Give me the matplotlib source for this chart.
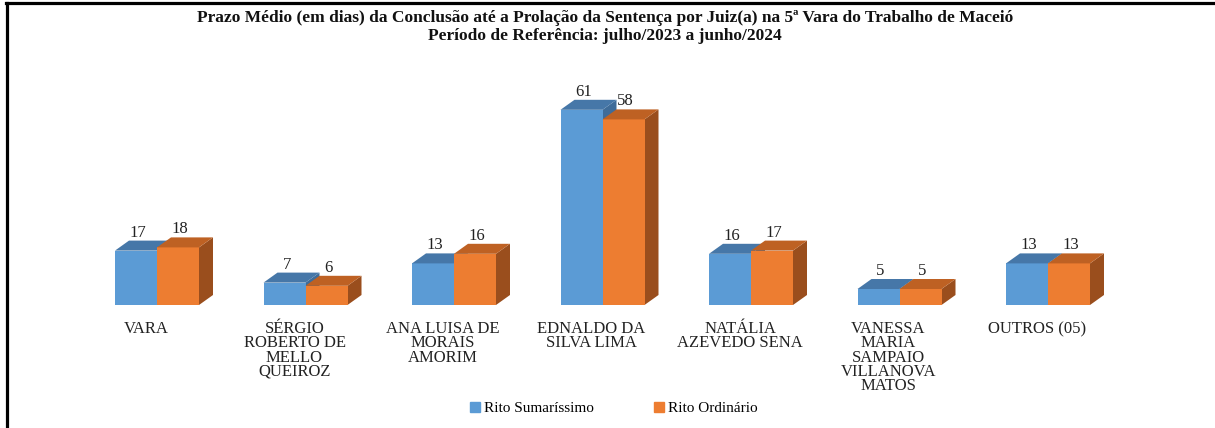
import numpy as np
import matplotlib
matplotlib.use("Agg")
import matplotlib.pyplot as plt
from matplotlib.patches import Polygon
from matplotlib.lines import Line2D
from matplotlib.transforms import offset_copy

plt.rcParams['font.family'] = ['Liberation Serif', 'DejaVu Serif']

# data
juizes = ["VARA", "SÉRGIO\nROBERTO DE\nMELLO\nQUEIROZ", "ANA LUISA DE\nMORAIS\nAMORIM",
          "EDNALDO DA\nSILVA LIMA", "NATÁLIA\nAZEVEDO SENA", "VANESSA\nMARIA\nSAMPAIO\nVILLANOVA\nMATOS",
          "OUTROS (05)"]
sumarissimo = [17, 7, 13, 61, 16, 5, 13]
ordinario = [18, 6, 16, 58, 17, 5, 13]
series_names = ["Rito Sumaríssimo", "Rito Ordinário"]

W, H = 1215, 428
fig = plt.figure(figsize=(W / 100, H / 100), dpi=100)
fig.patch.set_facecolor("white")

# axes placed so baseline sits ~305px from top, 3.2 px per day
ymax = 70
px_per_unit = 3.2
base_px = 305
x0_px = 157 - 74.25
ax = fig.add_axes([x0_px / W, (H - base_px) / H, 1039.5 / W, ymax * px_per_unit / H])
ax.set_xlim(-0.5, 6.5)
ax.set_ylim(0, ymax)
ax.axis("off")

bw = 42 / 148.5
dx = 14 / 148.5
dy = 10 / px_per_unit

styles = [
    dict(front="#5B9BD5", top="#4677A8", side="#3F6C99"),
    dict(front="#ED7D31", top="#BE6123", side="#9A4E1D"),
]

x = np.arange(len(juizes))
for k, vals in enumerate([sumarissimo, ordinario]):
    st = styles[k]
    lefts = x - bw + k * bw
    ax.bar(lefts, vals, width=bw, align="edge", color=st["front"], edgecolor="none", zorder=2 + k * 3)
    for xl, v in zip(lefts, vals):
        top = Polygon([(xl, v), (xl + bw, v), (xl + bw + dx, v + dy), (xl + dx, v + dy)],
                      closed=True, facecolor=st["top"], edgecolor="none", zorder=3 + k * 3)
        side = Polygon([(xl + bw, 0), (xl + bw + dx, dy), (xl + bw + dx, v + dy), (xl + bw, v)],
                       closed=True, facecolor=st["side"], edgecolor="none", zorder=1 + k * 3)
        ax.add_patch(top)
        ax.add_patch(side)
        ax.annotate(str(v), (xl + bw / 2 + dx * 0.15, v + dy), xytext=(0, 0), textcoords="offset points",
                    ha="center", va="bottom", fontsize=12, color="#222222", zorder=10)

# category labels
lab_tr = offset_copy(ax.transData, fig=fig, x=-11, y=-16, units="dots")
for xi, name in zip(x, juizes):
    ax.text(xi, 0, name, transform=lab_tr, ha="center", va="top", fontsize=12,
            color="#222222", linespacing=0.86)

# title
fig.text(605 / W, 1 - 18 / H, "Prazo Médio (em dias) da Conclusão até a Prolação da Sentença por Juiz(a) na 5ª Vara do Trabalho de Maceió",
         ha="center", va="center", fontsize=12.5, fontweight="bold", color="#111111")
fig.text(605 / W, 1 - 36 / H, "Período de Referência: julho/2023 a junho/2024",
         ha="center", va="center", fontsize=12.5, fontweight="bold", color="#111111")

# legend
handles = [Line2D([], [], marker="s", linestyle="none", markersize=6.5, color=styles[i]["front"]) for i in range(2)]
fig.legend(handles, series_names, loc="center", bbox_to_anchor=(614 / W, 1 - 408 / H), ncol=2,
           frameon=False, fontsize=11, handlelength=0.6, handletextpad=0.3, columnspacing=4.0)

# frame lines (top and left)
fig.add_artist(Line2D([6 / W, 1], [1 - 3 / H, 1 - 3 / H], transform=fig.transFigure, color="black", lw=2.3))
fig.add_artist(Line2D([6.5 / W, 6.5 / W], [1 - 3 / H, 0], transform=fig.transFigure, color="black", lw=2.3))

fig.savefig("out.png", dpi=100)
